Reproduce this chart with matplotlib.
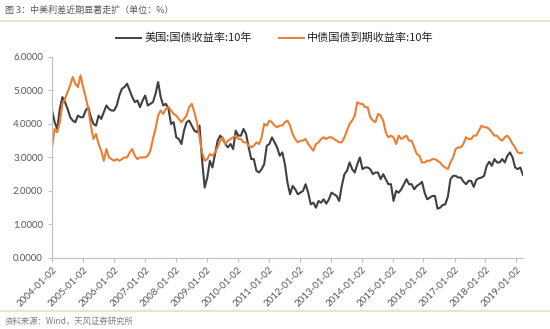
import matplotlib
matplotlib.use("Agg")
import matplotlib.pyplot as plt
from matplotlib.lines import Line2D
import pandas as pd

plt.rcParams['font.family'] = ['Noto Sans CJK SC', 'DejaVu Sans']

# 月度近似值，2004-01 至 2019-03
us_10y = [
    4.40, 4.05, 3.85, 4.45, 4.80, 4.65, 4.45, 4.20, 4.10, 4.05, 4.25, 4.20,
    4.20, 4.40, 4.50, 4.20, 4.00, 3.95, 4.25, 4.15, 4.35, 4.55, 4.45, 4.40,
    4.40, 4.55, 4.85, 5.05, 5.10, 5.20, 5.00, 4.80, 4.65, 4.70, 4.50, 4.70,
    4.85, 4.55, 4.60, 4.65, 4.90, 5.25, 4.80, 4.55, 4.60, 4.45, 4.00, 4.05,
    3.60, 3.55, 3.40, 3.80, 4.05, 4.10, 3.95, 3.80, 3.75, 3.95, 2.90, 2.10,
    2.40, 2.90, 2.70, 3.10, 3.50, 3.65, 3.55, 3.40, 3.30, 3.40, 3.25, 3.80,
    3.65, 3.65, 3.85, 3.70, 3.30, 2.95, 2.95, 2.60, 2.55, 2.65, 2.80, 3.35,
    3.40, 3.60, 3.45, 3.30, 3.05, 3.15, 2.80, 2.25, 1.90, 2.15, 2.05, 1.90,
    1.95, 2.00, 2.20, 1.95, 1.60, 1.65, 1.50, 1.70, 1.65, 1.75, 1.62, 1.75,
    1.95, 1.90, 1.85, 1.70, 2.15, 2.50, 2.60, 2.85, 2.65, 2.55, 2.80, 3.00,
    2.65, 2.70, 2.70, 2.65, 2.50, 2.55, 2.55, 2.35, 2.50, 2.35, 2.20, 2.20,
    1.70, 2.00, 1.95, 2.05, 2.20, 2.35, 2.20, 2.20, 2.05, 2.15, 2.20, 2.27,
    1.95, 1.75, 1.80, 1.85, 1.85, 1.47, 1.50, 1.58, 1.60, 1.83, 2.35, 2.45,
    2.45, 2.40, 2.40, 2.28, 2.20, 2.30, 2.30, 2.12, 2.33, 2.38, 2.40, 2.45,
    2.75, 2.87, 2.75, 2.95, 2.85, 2.85, 2.95, 2.85, 3.05, 3.15, 3.00, 2.70,
    2.65, 2.70, 2.48,
]

cn_10y = [
    3.30, 3.85, 3.75, 4.05, 4.60, 4.75, 4.95, 5.15, 5.40, 5.20, 5.10, 5.45,
    5.10, 4.80, 4.45, 3.95, 3.55, 3.70, 3.40, 3.20, 2.90, 3.25, 3.00, 2.95,
    2.90, 2.95, 2.90, 2.95, 3.00, 3.00, 3.15, 3.25, 3.05, 2.95, 3.00, 3.00,
    3.00, 3.05, 3.20, 3.55, 3.85, 4.25, 4.40, 4.30, 4.45, 4.50, 4.40, 4.30,
    4.25, 4.15, 4.05, 4.15, 4.25, 4.50, 4.60, 4.35, 4.05, 3.60, 3.15, 2.90,
    2.95, 3.10, 3.05, 3.15, 3.30, 3.50, 3.60, 3.40, 3.50, 3.55, 3.60, 3.65,
    3.55, 3.55, 3.45, 3.45, 3.35, 3.30, 3.35, 3.45, 3.40, 3.60, 4.00, 3.95,
    4.10, 4.05, 3.95, 3.90, 3.95, 3.95, 4.05, 4.10, 3.95, 3.70, 3.55, 3.45,
    3.50, 3.50, 3.55, 3.40, 3.30, 3.20, 3.40, 3.45, 3.55, 3.60, 3.55, 3.60,
    3.60, 3.55, 3.50, 3.45, 3.45, 3.60, 3.80, 4.00, 4.10, 4.25, 4.65, 4.60,
    4.60, 4.50, 4.50, 4.20, 4.10, 4.05, 4.30, 4.25, 4.10, 3.75, 3.60, 3.65,
    3.60, 3.40, 3.65, 3.55, 3.60, 3.65, 3.50, 3.50, 3.30, 3.10, 3.05, 2.85,
    2.85, 2.90, 2.90, 2.95, 2.95, 2.90, 2.85, 2.75, 2.70, 2.65, 2.85, 3.00,
    3.25, 3.30, 3.30, 3.40, 3.60, 3.55, 3.55, 3.65, 3.65, 3.80, 3.95, 3.90,
    3.90, 3.85, 3.75, 3.65, 3.65, 3.55, 3.50, 3.60, 3.65, 3.55, 3.40, 3.30,
    3.15, 3.12, 3.15,
]

tick_years = list(range(2004, 2020))
dates = pd.date_range('2004-01-02', '2019-03-20', periods=len(us_10y))

fig = plt.figure(figsize=(5.5, 3.29), dpi=100)
ax = fig.add_axes([0.0945, 0.216, 0.857, 0.611])

ax.plot(dates, us_10y, color='#404040', lw=1.5)
ax.plot(dates, cn_10y, color='#ed7d31', lw=1.5)

ax.set_ylim(0, 6)
ax.set_yticks(range(0, 7))
ax.yaxis.set_major_formatter(matplotlib.ticker.FormatStrFormatter('%.4f'))
ax.set_xlim(pd.Timestamp('2004-01-01'), pd.Timestamp('2019-03-25'))
ticks = [pd.Timestamp(f'{y}-01-02') for y in tick_years]
ax.set_xticks(ticks)
ax.set_xticklabels([f'{y}-01-02' for y in tick_years], rotation=45,
                   ha='right', rotation_mode='anchor')

for side in ('top', 'right'):
    ax.spines[side].set_visible(False)
for side in ('left', 'bottom'):
    ax.spines[side].set_color('#bfbfbf')
    ax.spines[side].set_linewidth(0.8)
ax.tick_params(colors='#bfbfbf', labelcolor='#595959', labelsize=7,
               length=3, width=0.8)
ax.tick_params(axis='x', pad=2)
for lbl in ax.get_xticklabels() + ax.get_yticklabels():
    lbl.set_family(['Lato', 'DejaVu Sans'])

handles = [Line2D([], [], color='#404040', lw=1.4),
           Line2D([], [], color='#ed7d31', lw=1.4)]
fig.legend(handles, ['美国:国债收益率:10年', '中债国债到期收益率:10年'],
           loc='center', bbox_to_anchor=(0.5, 0.884), ncol=2, frameon=False,
           fontsize=8, handlelength=2.2, columnspacing=2.5, handletextpad=0.3,
           labelcolor='#262626')

fig.text(0.009, 0.97, '图 3：中美利差近期显著走扩（单位：%）', fontsize=6.5,
         color='#595959', va='center')
fig.text(0.009, 0.024, '资料来源：Wind，天风证券研究所', fontsize=6,
         color='#7f7f7f', va='center')
fig.add_artist(Line2D([0, 1], [0.937, 0.937], color='#e8dfc4', lw=1.2))
fig.add_artist(Line2D([0, 1], [0.055, 0.055], color='#e8dfc4', lw=1.2))

fig.savefig('out.png', dpi=100, facecolor='white')
